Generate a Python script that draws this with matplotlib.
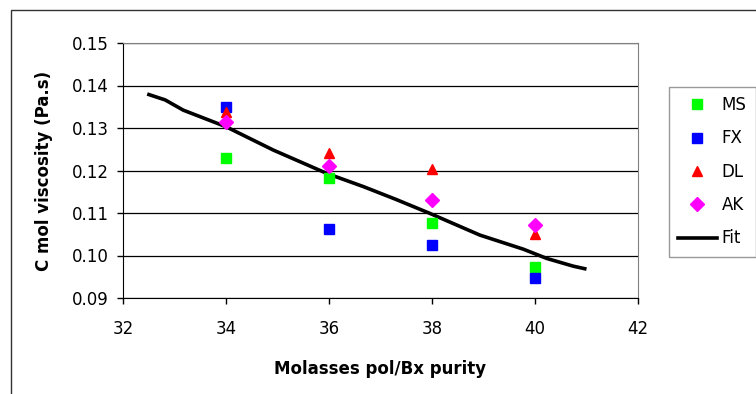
import matplotlib
matplotlib.use("Agg")
import matplotlib.pyplot as plt
import matplotlib.lines as mlines
from matplotlib.patches import Rectangle

plt.rcParams['font.family'] = ['DejaVu Sans']

x_pts = [34, 36, 38, 40]
ms = [0.1230, 0.1182, 0.1077, 0.0973]
fx = [0.1350, 0.1062, 0.1025, 0.0946]
dl = [0.1338, 0.1242, 0.1204, 0.1051]
ak = [0.1315, 0.1211, 0.1131, 0.1072]

fit_x = [32.47, 32.82, 33.17, 34.0, 34.92, 35.96, 36.67, 37.3, 37.96,
         38.93, 39.77, 40.23, 40.74, 41.0]
fit_y = [0.1380, 0.1366, 0.1342, 0.1303, 0.1248, 0.1193, 0.1162, 0.1132,
         0.1099, 0.1048, 0.1015, 0.0993, 0.0975, 0.0968]

x_ticks = [32, 34, 36, 38, 40, 42]
y_ticks = [0.09, 0.10, 0.11, 0.12, 0.13, 0.14, 0.15]

fig = plt.figure(figsize=(7.56, 3.94), dpi=100)
W, H = 756, 394
ax = fig.add_axes([123 / W, 1 - 298 / H, (638 - 123) / W, (298 - 43) / H])

# outer chart border
fig.patches.append(Rectangle((11 / W, -0.1), 1.2, 1 - 10 / H + 0.1,
                             transform=fig.transFigure, fill=False,
                             edgecolor='#333333', linewidth=1.0))

for y in y_ticks:
    ax.axhline(y, color='black', linewidth=0.9, zorder=1)

ax.plot(fit_x, fit_y, color='black', linewidth=2.6, zorder=2,
        solid_joinstyle='round', solid_capstyle='butt')
ax.plot(x_pts, ms, linestyle='none', marker='s', color='#00FF00', markersize=6.5, zorder=3, label='MS')
ax.plot(x_pts, fx, linestyle='none', marker='s', color='#0000FF', markersize=6.5, zorder=3, label='FX')
ax.plot(x_pts, dl, linestyle='none', marker='^', color='#FF0000', markersize=7.5, zorder=3, label='DL')
ax.plot(x_pts, ak, linestyle='none', marker='D', color='#FF00FF', markersize=7, zorder=4, label='AK')

ax.set_xlim(32, 42)
ax.set_ylim(0.09, 0.15)
ax.set_xticks(x_ticks)
ax.set_yticks(y_ticks)
ax.set_xticklabels([str(v) for v in x_ticks])
ax.set_yticklabels([f"{v:.2f}" for v in y_ticks])
ax.tick_params(axis='both', labelsize=12, direction='out', length=4, width=1, color='black')
ax.tick_params(axis='x', pad=12)
ax.tick_params(axis='y', pad=6)

for s in ['top', 'right']:
    ax.spines[s].set_color('#808080')
for s in ['left', 'bottom']:
    ax.spines[s].set_color('black')

ax.set_xlabel('Molasses pol/Bx purity', fontsize=12, fontweight='bold', labelpad=16)
ax.set_ylabel('C mol viscosity (Pa.s)', fontsize=12, fontweight='bold', labelpad=14)

handles, labels = ax.get_legend_handles_labels()
fit_handle = mlines.Line2D([], [], color='black', linewidth=2.6)
hs = list(handles) + [fit_handle]
ls = list(labels) + ['Fit']
leg = fig.legend(hs, ls, loc='upper left', bbox_to_anchor=(669 / W, 1 - 87 / H),
                 bbox_transform=fig.transFigure, frameon=True, fancybox=False,
                 fontsize=12, labelspacing=0.92, handlelength=2.3, handletextpad=0.3,
                 borderpad=0.55, borderaxespad=0)
leg.get_frame().set_edgecolor('#808080')
leg.get_frame().set_linewidth(1.0)

fig.savefig('out.png', dpi=100)
